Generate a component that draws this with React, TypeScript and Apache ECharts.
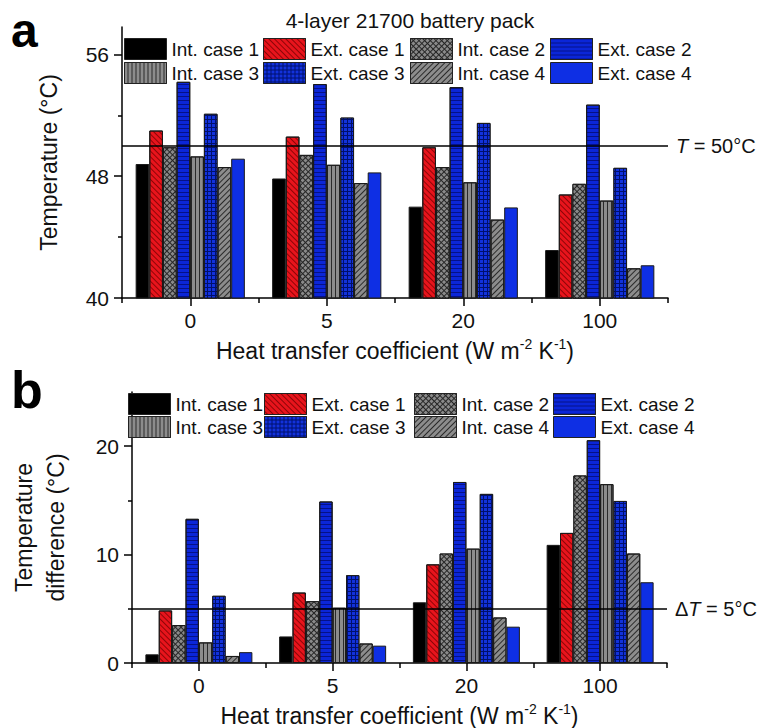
import { useEffect, useRef } from 'react';
import * as echarts from 'echarts';

// ---------- data ----------
const categories = ['0', '5', '20', '100'];
const seriesNames = [
  'Int. case 1', 'Ext. case 1', 'Int. case 2', 'Ext. case 2',
  'Int. case 3', 'Ext. case 3', 'Int. case 4', 'Ext. case 4',
];

// (a) maximum temperature (°C)
const tempInt1 = [48.8, 47.85, 46.0, 43.15];
const tempExt1 = [51.0, 50.6, 49.9, 46.8];
const tempInt2 = [49.9, 49.4, 48.6, 47.5];
const tempExt2 = [54.2, 54.05, 53.85, 52.7];
const tempInt3 = [49.3, 48.75, 47.6, 46.4];
const tempExt3 = [52.1, 51.85, 51.5, 48.55];
const tempInt4 = [48.6, 47.55, 45.15, 41.95];
const tempExt4 = [49.15, 48.25, 45.95, 42.15];

// (b) temperature difference (°C)
const diffInt1 = [0.8, 2.45, 5.6, 10.9];
const diffExt1 = [4.85, 6.5, 9.1, 12.0];
const diffInt2 = [3.5, 5.7, 10.1, 17.3];
const diffExt2 = [13.3, 14.9, 16.7, 20.55];
const diffInt3 = [1.9, 5.1, 10.55, 16.5];
const diffExt3 = [6.2, 8.1, 15.6, 14.95];
const diffInt4 = [0.65, 1.8, 4.2, 10.1];
const diffExt4 = [1.0, 1.6, 3.35, 7.45];

const tempTicks = [40, 48, 56];
const tempMinorTicks = [44, 52];
const diffTicks = [0, 10, 20];
const diffMinorTicks = [5, 15];
const tempLimit = 50;
const diffLimit = 5;

const title = '4-layer 21700 battery pack';
const xName = '{a|Heat transfer coefficient (W m}{s|-2}{a| K}{s|-1}{a|)}';
const yNameTop = 'Temperature (°C)';
const yNameBottom = 'Temperature\ndifference (°C)';

// ---------- styles ----------
const FONT = "'Liberation Sans', Arial, Helvetica, sans-serif";
const TXT = '#111111';

const lineDecal = (rotation: number, color: string) => ({
  symbol: 'rect', symbolSize: 1, dashArrayX: [1, 0], dashArrayY: [1, 3], rotation, color,
});
const cellDecal = (rotation: number, color: string) => ({
  symbol: 'rect', symbolSize: 1, dashArrayX: [3, 1], dashArrayY: [3, 1], rotation, color,
});

const seriesStyles: any[] = [
  { color: '#000000' },
  { color: '#e8141c', decal: lineDecal(Math.PI / 4, 'rgba(110,0,0,0.75)') },
  { color: '#262626', decal: cellDecal(Math.PI / 4, '#8a8a8a') },
  { color: '#0b26d8', decal: lineDecal(0, 'rgba(0,0,70,0.55)') },
  { color: '#8c8c8c', decal: lineDecal(Math.PI / 2, '#2a2a2a') },
  { color: '#00106e', decal: cellDecal(0, '#1232dc') },
  { color: '#8c8c8c', decal: lineDecal(-Math.PI / 4, '#2a2a2a') },
  { color: '#0e2fe4' },
];

const legendCellsTop = [[124, 38], [263, 38], [410, 38], [550, 38], [124, 62], [263, 62], [410, 62], [550, 62]];
const legendCellsBottom = [[128, 393], [264, 393], [414, 393], [553, 393], [128, 416], [264, 416], [414, 416], [553, 416]];

export default function App() {
  const ref = useRef<HTMLDivElement>(null);

  useEffect(() => {
    if (!ref.current) return;
    const chart = echarts.init(ref.current, null, { renderer: 'svg' });

    const topValues = [tempInt1, tempExt1, tempInt2, tempExt2, tempInt3, tempExt3, tempInt4, tempExt4];
    const diffValues = [diffInt1, diffExt1, diffInt2, diffExt2, diffInt3, diffExt3, diffInt4, diffExt4];

    const axisLine = { show: true, lineStyle: { color: '#000', width: 1.5 } };
    const labelStyle = { fontSize: 21, color: TXT, fontFamily: FONT };

    const xAxisPair = (grid: number) => [
      {
        type: 'category', gridIndex: grid, data: categories, position: 'bottom',
        axisLine, axisTick: { show: true, alignWithLabel: true, length: 8, lineStyle: { color: '#000', width: 1.5 } },
        axisLabel: { ...labelStyle, margin: 12 },
        name: xName, nameLocation: 'middle', nameGap: 39,
        nameTextStyle: {
          rich: {
            a: { fontSize: 23, color: TXT, fontFamily: FONT, lineHeight: 27 },
            s: { fontSize: 14, color: TXT, fontFamily: FONT, verticalAlign: 'top', lineHeight: 15 },
          },
        },
        splitLine: { show: false },
      },
      {
        type: 'category', gridIndex: grid, data: categories, position: 'bottom',
        axisLine: { show: false },
        axisTick: { show: true, alignWithLabel: false, length: 5, lineStyle: { color: '#000', width: 1.5 } },
        axisLabel: { show: false }, splitLine: { show: false },
      },
    ];

    const yAxisPair = (grid: number, min: number, max: number, ticks: number[], minor: number[], name: string, gap: number, lh: number) => [
      {
        type: 'value', gridIndex: grid, min, max, position: 'left',
        axisLine,
        axisTick: { show: true, length: 8, customValues: ticks, lineStyle: { color: '#000', width: 1.5 } },
        axisLabel: { ...labelStyle, margin: 13, customValues: ticks },
        splitLine: { show: false },
        name, nameLocation: 'middle', nameGap: gap,
        nameTextStyle: { fontSize: 23, color: TXT, fontFamily: FONT, lineHeight: lh },
      },
      {
        type: 'value', gridIndex: grid, min, max, position: 'left',
        axisLine: { show: false },
        axisTick: { show: true, length: 4, customValues: minor, lineStyle: { color: '#000', width: 1.5 } },
        axisLabel: { show: false, customValues: minor },
        splitLine: { show: false },
      },
    ];

    const markLine = (value: number, text: string) => ({
      silent: true,
      symbol: ['none', 'none'],
      lineStyle: { color: '#000', width: 1.5, type: 'solid' },
      label: {
        show: true, position: 'end', distance: 8, formatter: text,
        fontSize: 20, color: TXT, fontFamily: FONT,
        rich: { i: { fontStyle: 'italic', fontSize: 20, color: TXT, fontFamily: FONT } },
      },
      data: [{ yAxis: value }],
    });

    const series: any[] = [];
    seriesNames.forEach((name, i) => {
      const base = {
        type: 'bar', name, barWidth: '10%', barGap: '0%', barCategoryGap: '20%',
        itemStyle: { ...seriesStyles[i], borderColor: '#1a1a1a', borderWidth: 1 },
        emphasis: { disabled: true },
      };
      series.push({
        ...base, xAxisIndex: 0, yAxisIndex: 0, data: topValues[i],
        ...(i === 0 ? { markLine: markLine(tempLimit, '{i|T} = 50°C') } : {}),
      });
      series.push({
        ...base, xAxisIndex: 2, yAxisIndex: 2, data: diffValues[i],
        ...(i === 0 ? { markLine: markLine(diffLimit, 'Δ{i|T} = 5°C') } : {}),
      });
    });

    const legends: any[] = [];
    const addLegend = (cells: number[][]) => {
      seriesNames.forEach((name, i) => {
        legends.push({
          data: [name], left: cells[i][0], top: cells[i][1], padding: 0,
          icon: 'rect', itemWidth: 42, itemHeight: 21, selectedMode: false,
          itemStyle: { borderColor: '#222', borderWidth: 1 },
          textStyle: { fontSize: 19, color: TXT, fontFamily: FONT },
        });
      });
    };
    addLegend(legendCellsTop);
    addLegend(legendCellsBottom);

    chart.setOption({
      animation: false,
      backgroundColor: '#ffffff',
      textStyle: { fontFamily: FONT },
      grid: [
        { left: 122, top: 27, width: 546, height: 271 },
        { left: 120, top: 392, width: 547, height: 273 },
      ],
      xAxis: [...xAxisPair(0), ...xAxisPair(1)],
      yAxis: [
        ...yAxisPair(0, 40, 57.8, tempTicks, tempMinorTicks, yNameTop, 60, 27),
        ...yAxisPair(1, 0, 25, diffTicks, diffMinorTicks, yNameBottom, 60, 32),
      ],
      legend: legends,
      series,
      graphic: [
        {
          type: 'text', x: 410, y: 20,
          style: { text: title, fontSize: 21, fill: TXT, fontFamily: FONT, textAlign: 'center', textVerticalAlign: 'middle' },
        },
        {
          type: 'text', x: 11, y: 30,
          style: { text: 'a', fontSize: 48, fontWeight: 'bold', fill: '#000', fontFamily: FONT, textAlign: 'left', textVerticalAlign: 'middle' },
        },
        {
          type: 'text', x: 11, y: 390,
          style: { text: 'b', fontSize: 52, fontWeight: 'bold', fill: '#000', fontFamily: FONT, textAlign: 'left', textVerticalAlign: 'middle' },
        },
      ],
    });

    return () => chart.dispose();
  }, []);

  return <div ref={ref} style={{ position: 'fixed', left: 0, top: 0, width: 758, height: 728 }} />;
}
